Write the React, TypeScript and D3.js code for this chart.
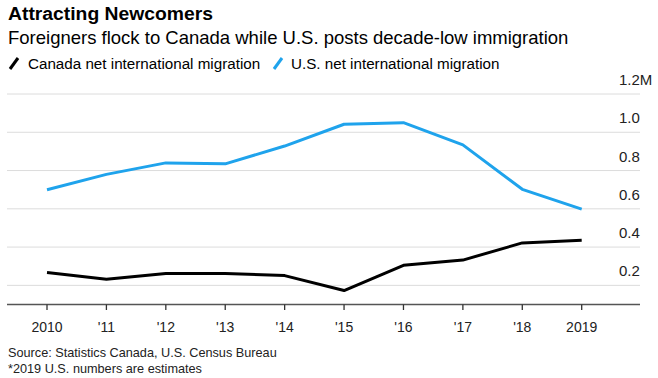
import React from "react";
import * as d3 from "d3";

const years = [2010, 2011, 2012, 2013, 2014, 2015, 2016, 2017, 2018, 2019];
const yearLabels = ["2010", "'11", "'12", "'13", "'14", "'15", "'16", "'17", "'18", "2019"];
const usValues = [0.70, 0.78, 0.84, 0.835, 0.928, 1.042, 1.05, 0.934, 0.702, 0.598];
const canadaValues = [0.267, 0.232, 0.262, 0.262, 0.251, 0.173, 0.305, 0.332, 0.422, 0.436];
const yTicks = [0.2, 0.4, 0.6, 0.8, 1.0, 1.2];
const yTickLabels = ["0.2", "0.4", "0.6", "0.8", "1.0", "1.2M"];

const W = 658;
const H = 378;
const FONT = "'Liberation Sans', Arial, Helvetica, sans-serif";
const BLUE = "#1fa3ec";

export default function App() {
  const x = d3.scaleLinear().domain([2010, 2019]).range([47, 581.7]);
  const y = d3.scaleLinear().domain([0.1, 1.2]).range([304.5, 94]);
  const line = d3
    .line<number>()
    .x((_, i) => x(years[i]))
    .y((d) => y(d));

  return (
    <svg
      width={W}
      height={H}
      style={{ position: "absolute", left: 0, top: 0, background: "#fff" }}
      fontFamily={FONT}
    >
      <rect width={W} height={H} fill="#fff" />
      <text x={8} y={20} fontSize={18} fontWeight="bold" fill="#000" textLength={205} lengthAdjust="spacingAndGlyphs">
        Attracting Newcomers
      </text>
      <text x={8} y={44} fontSize={18.5} fill="#000">
        Foreigners flock to Canada while U.S. posts decade-low immigration
      </text>
      {/* legend */}
      <line x1={10} y1={69} x2={18} y2={58} stroke="#000" strokeWidth={3} />
      <text x={28} y={68.5} fontSize={15.2} fill="#000">
        Canada net international migration
      </text>
      <line x1={274} y1={69} x2={282} y2={58} stroke={BLUE} strokeWidth={3} />
      <text x={291} y={68.5} fontSize={15.2} fill="#000">
        U.S. net international migration
      </text>

      {/* gridlines */}
      {yTicks.map((t) => (
        <line key={t} x1={7} x2={640} y1={y(t)} y2={y(t)} stroke="#dcdcdc" strokeWidth={1} />
      ))}
      {yTicks.map((t, i) => (
        <text key={"l" + t} x={619} y={y(t) - 9} fontSize={15} fill="#222">
          {yTickLabels[i]}
        </text>
      ))}

      {/* x axis */}
      <line x1={7} x2={640} y1={304.5} y2={304.5} stroke="#555" strokeWidth={1.3} />
      {years.map((yr, i) => (
        <g key={yr}>
          <line x1={x(yr)} x2={x(yr)} y1={304.5} y2={310} stroke="#333" strokeWidth={1.3} />
          <text x={x(yr)} y={332} fontSize={14} textAnchor="middle" fill="#222">
            {yearLabels[i]}
          </text>
        </g>
      ))}

      <path d={line(usValues) || ""} fill="none" stroke={BLUE} strokeWidth={3} strokeLinejoin="round" />
      <path d={line(canadaValues) || ""} fill="none" stroke="#000" strokeWidth={3} strokeLinejoin="round" />

      <text x={8} y={357} fontSize={12.7} fill="#222">
        Source: Statistics Canada, U.S. Census Bureau
      </text>
      <text x={8} y={373} fontSize={12.7} fill="#222">
        *2019 U.S. numbers are estimates
      </text>
    </svg>
  );
}
